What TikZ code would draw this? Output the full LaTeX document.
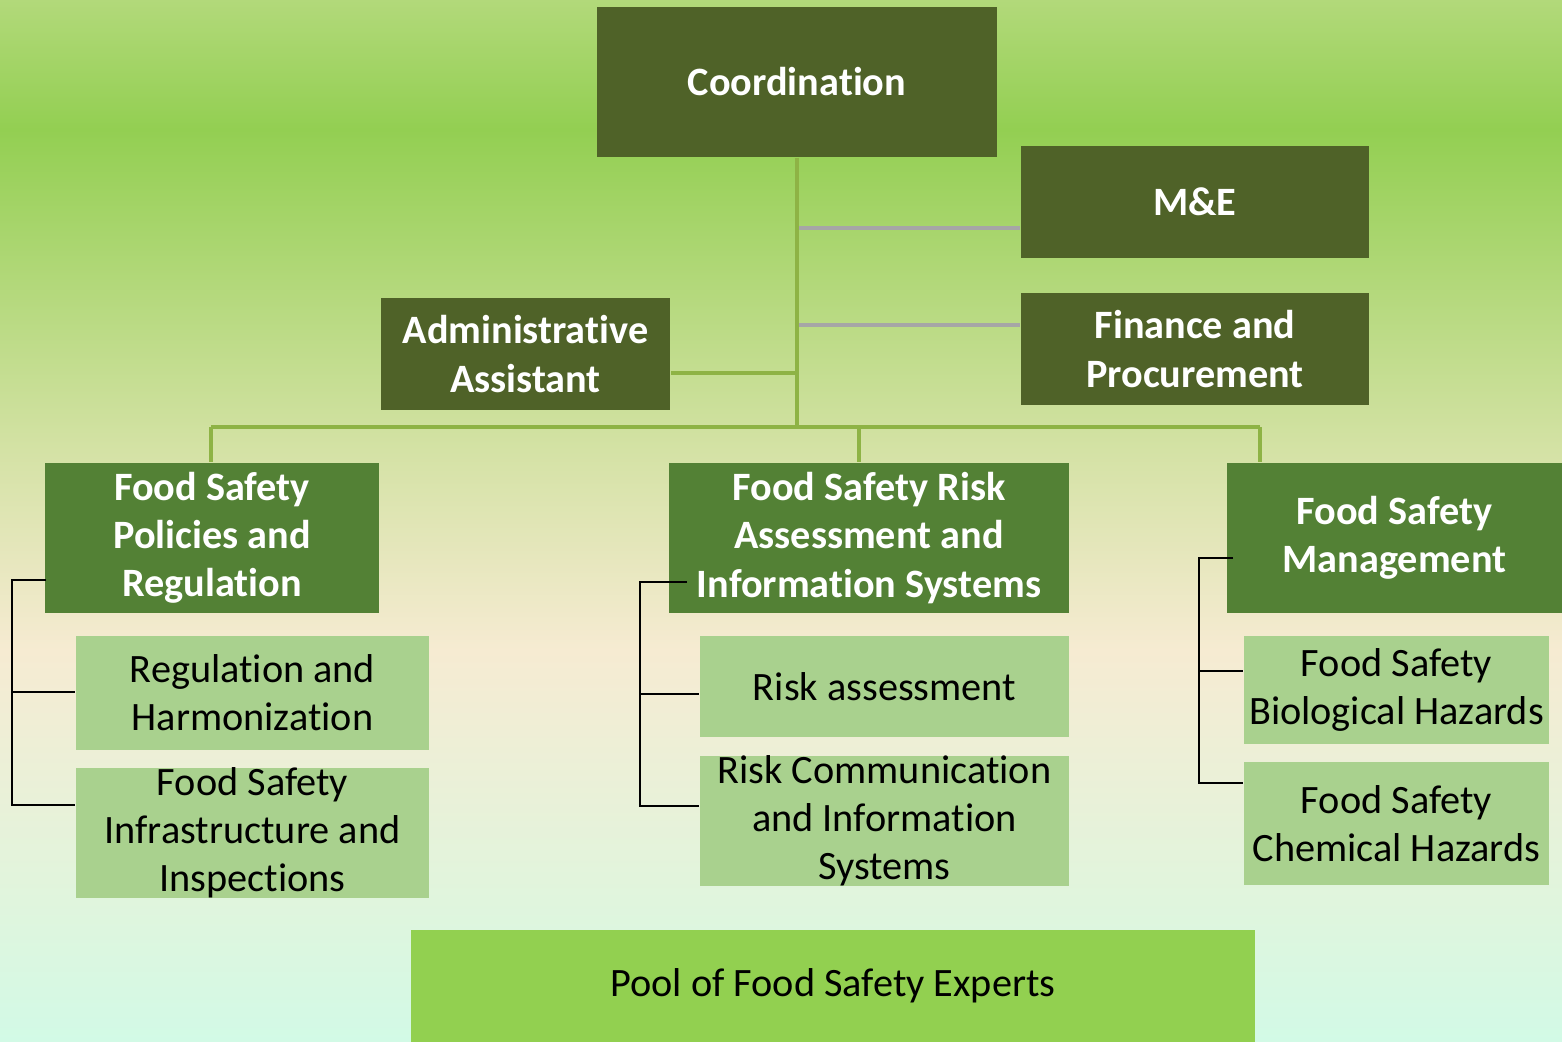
\documentclass[tikz,border=0pt]{standalone}
\usepackage{fontspec}
\setmainfont{Carlito}[Ligatures=NoCommon]
\usepackage{xcolor}
\usetikzlibrary{positioning}

\definecolor{olive}{HTML}{4F6228}
\definecolor{unitgreen}{HTML}{538135}
\definecolor{subgreen}{HTML}{A9D18E}
\definecolor{poolgreen}{HTML}{92D050}
\definecolor{trunkgreen}{HTML}{8EB345}
\definecolor{tiegray}{HTML}{A6A6A6}
\definecolor{bgA}{HTML}{D2FAE6}
\definecolor{bgB}{HTML}{E0F5DD}
\definecolor{bgC}{HTML}{F6EBD2}
\definecolor{bgD}{HTML}{D4E2A5}
\definecolor{bgE}{HTML}{93CF52}
\definecolor{bgF}{HTML}{B2D97A}

\pgfdeclareverticalshading{backdrop}{100bp}{color(0bp)=(bgA); color(25bp)=(bgA); color(31.8bp)=(bgB); color(43.8bp)=(bgC); color(53.4bp)=(bgD); color(68.8bp)=(bgE); color(75bp)=(bgF); color(100bp)=(bgF)}

\tikzset{
  box/.style={rectangle, inner sep=0pt, align=center, font=\fontsize{11.45}{13.7}\selectfont},
  headbox/.style={box, fill=olive, text=white, font=\fontsize{11.45}{13.7}\selectfont\bfseries},
  unitbox/.style={box, fill=unitgreen, text=white, font=\fontsize{11.45}{13.7}\selectfont\bfseries},
  subbox/.style={box, fill=subgreen, text=black},
  trunk/.style={draw=trunkgreen, line width=1.1pt},
  tie/.style={draw=tiegray, line width=1pt},
  bracket/.style={draw=black, line width=0.7pt},
}

\begin{document}
\begin{tikzpicture}[x=0.01cm, y=-0.01cm]
  \useasboundingbox (0,0) rectangle (1562,1042);
  \shade[shading=backdrop] (0,0) rectangle (1562,1042);

  % top level
  \node[headbox, minimum width=4cm, minimum height=1.5cm] (coord) at (797,82) {Coordination};
  \node[headbox, minimum width=3.48cm, minimum height=1.12cm] (me) at (1195,202) {M\&E};
  \node[headbox, minimum width=3.48cm, minimum height=1.12cm] (fin) at (1195,349) {Finance and\\Procurement};
  \node[headbox, minimum width=2.89cm, minimum height=1.12cm] (admin) at (525.5,354) {Administrative\\Assistant};

  % units
  \node[unitbox, minimum width=3.34cm, minimum height=1.5cm] (fsp) at (212,538) {Food Safety\\Policies and\\Regulation};
  \node[unitbox, minimum width=4cm, minimum height=1.5cm] (fsr) at (869,538) {Food Safety Risk\\Assessment and\\Information Systems};
  \node[unitbox, minimum width=3.35cm, minimum height=1.5cm] (fsm) at (1394.5,538) {Food Safety\\Management};

  % sub units
  \node[subbox, minimum width=3.53cm, minimum height=1.14cm] (reg) at (252.5,693) {Regulation and\\Harmonization};
  \node[subbox, minimum width=3.53cm, minimum height=1.28cm] (infra) at (252.5,833) {Food Safety\\Infrastructure and\\Inspections};
  \node[subbox, minimum width=3.69cm, minimum height=1.01cm] (risk) at (884.5,686.5) {Risk assessment};
  \node[subbox, minimum width=3.69cm, minimum height=1.28cm] (comm) at (884.5,821) {Risk Communication\\and Information\\Systems};
  \node[subbox, minimum width=3.05cm, minimum height=1.08cm] (bio) at (1396.5,690) {Food Safety\\Biological Hazards};
  \node[subbox, minimum width=3.05cm, minimum height=1.23cm] (chem) at (1396.5,823.5) {Food Safety\\Chemical Hazards};

  \node[subbox, fill=poolgreen, minimum width=8.44cm, minimum height=1.12cm] (pool) at (833,986) {Pool of Food Safety Experts};

  % trunk lines
  \coordinate (hub) at (797,427);
  \coordinate (busL) at (211,427);
  \coordinate (busM) at (859,427);
  \coordinate (busR) at (1260,427);
  \coordinate (meT) at (797,228);
  \coordinate (finT) at (797,325);
  \coordinate (adT) at (797,373);
  \draw[tie] (meT) -- (meT -| me.west);
  \draw[tie] (finT) -- (finT -| fin.west);
  \draw[trunk] (coord.south) -- (hub);
  \draw[trunk] (adT) -- (adT -| admin.east);
  \draw[trunk] (busL) -- (busR);
  \draw[trunk] (busL) -- (busL |- fsp.north);
  \draw[trunk] (busM) -- (busM |- fsr.north);
  \draw[trunk] (busR) -- (busR |- fsm.north);

  % brackets
  \coordinate (lt) at (12,580);
  \coordinate (lb) at (12,805);
  \draw[bracket] ([xshift=0.02cm]lt -| fsp.west) -- (lt) -- (lb) -- (lb -| infra.west);
  \draw[bracket] (lt |- 0,692) -- (reg.west |- 0,692);

  \coordinate (mt) at (640,582);
  \coordinate (mb) at (640,806);
  \draw[bracket] ([xshift=0.19cm]mt -| fsr.west) -- (mt) -- (mb) -- (mb -| comm.west);
  \draw[bracket] (mt |- 0,694) -- (risk.west |- 0,694);

  \coordinate (rt) at (1199,558);
  \coordinate (rb) at (1199,783);
  \draw[bracket] ([xshift=0.07cm]rt -| fsm.west) -- (rt) -- (rb) -- (rb -| chem.west);
  \draw[bracket] (rt |- 0,671) -- (bio.west |- 0,671);
\end{tikzpicture}
\end{document}
